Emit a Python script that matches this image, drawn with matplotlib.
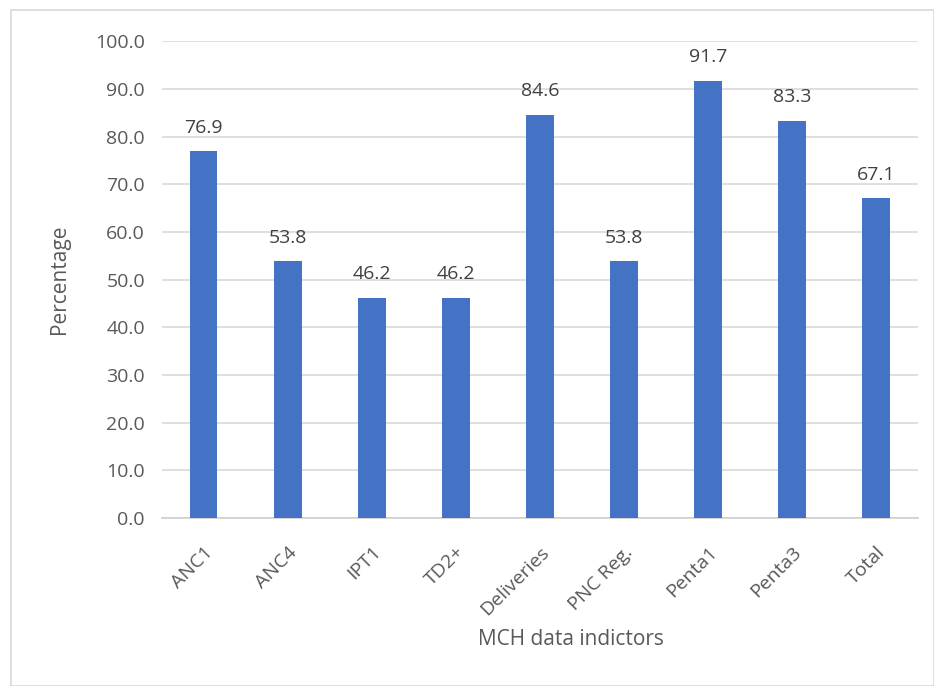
import matplotlib
matplotlib.use("Agg")
import matplotlib.pyplot as plt
from matplotlib.patches import Rectangle

categories = ["ANC1", "ANC4", "IPT1", "TD2+", "Deliveries", "PNC Reg.", "Penta1", "Penta3", "Total"]
values = [76.9, 53.8, 46.2, 46.2, 84.6, 53.8, 91.7, 83.3, 67.1]
yticks = [0, 10, 20, 30, 40, 50, 60, 70, 80, 90, 100]

plt.rcParams["font.family"] = ["Open Sans", "DejaVu Sans"]
text_color = "#595959"
bar_color = "#4472C4"

fig = plt.figure(figsize=(9.34, 6.86), dpi=100)
fig.patch.set_facecolor("white")

# chart area frame
fig.add_artist(Rectangle((11 / 934, 0), 1 - 11 / 934, 1 - 10 / 686,
                         transform=fig.transFigure, facecolor="white",
                         edgecolor="#d9d9d9", linewidth=1.2, zorder=0))

ax = fig.add_axes([0.173, 0.245, 0.81, 0.695])
x = range(len(categories))
ax.bar(x, values, width=0.33, color=bar_color, zorder=3)

for xi, v in zip(x, values):
    ax.text(xi, v + 3.0, f"{v:.1f}", ha="center", va="bottom",
            fontsize=14, color="#404040")

ax.set_ylim(0, 100)
ax.set_xlim(-0.5, len(categories) - 0.5)
ax.set_yticks(yticks)
ax.set_yticklabels([f"{t:.1f}" for t in yticks], fontsize=14, color=text_color)
ax.set_xticks(list(x))
ax.set_xticklabels(categories, rotation=45, ha="right", rotation_mode="anchor",
                   fontsize=14, color=text_color)
ax.tick_params(axis="y", length=0, pad=12)
ax.tick_params(axis="x", length=0, pad=18)

ax.yaxis.grid(True, color="#d9d9d9", linewidth=1.2, zorder=0)
ax.set_axisbelow(True)
for s in ["top", "right", "left"]:
    ax.spines[s].set_visible(False)
ax.spines["bottom"].set_color("#d0d0d0")
ax.spines["bottom"].set_linewidth(1.2)

ax.set_ylabel("Percentage", fontsize=15, color=text_color, labelpad=18)
ax.set_xlabel("MCH data indictors", fontsize=15, color=text_color)
ax.xaxis.set_label_coords(0.541, -0.232)

fig.savefig("out.png", dpi=100, facecolor=fig.get_facecolor())
